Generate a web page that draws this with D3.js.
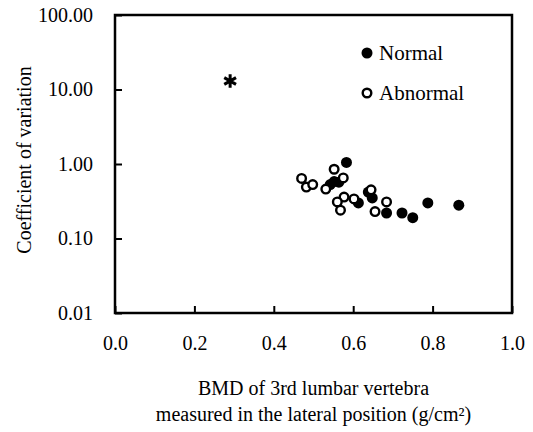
<!DOCTYPE html>
<html>
<head>
<meta charset="utf-8">
<script src="https://cdn.jsdelivr.net/npm/d3@7"></script>
<style>
  body { margin: 0; background: #fff; }
</style>
</head>
<body>
<script>
// data (x = BMD g/cm2, y = coefficient of variation)
let normalX = [0.583, 0.542, 0.552, 0.564, 0.613, 0.638, 0.648, 0.684, 0.723, 0.750, 0.788, 0.866];
let normalY = [1.05, 0.53, 0.58, 0.57, 0.30, 0.42, 0.35, 0.22, 0.22, 0.19, 0.30, 0.28];

let abnormalX = [0.470, 0.482, 0.498, 0.531, 0.552, 0.575, 0.577, 0.560, 0.568, 0.602, 0.645, 0.655, 0.684];
let abnormalY = [0.64, 0.49, 0.53, 0.46, 0.85, 0.65, 0.36, 0.31, 0.24, 0.34, 0.45, 0.23, 0.31];

let outlierX = [0.29];
let outlierY = [13];

let xTicks = [0, 0.2, 0.4, 0.6, 0.8, 1.0];
let yTicks = [0.01, 0.1, 1, 10, 100];

let serif = "'Liberation Serif', 'Times New Roman', serif";

let svg = d3.select("body").append("svg")
	.attr("width", 533)
	.attr("height", 432)
	.style("font-family", serif);

let margin = {top: 15, right: 21, bottom: 119, left: 115};
let innerWidth = 533 - margin.left - margin.right;
let innerHeight = 432 - margin.top - margin.bottom;

let scaleX = d3.scaleLinear().domain([0, 1]).range([0, innerWidth]);
let scaleY = d3.scaleLog().domain([0.01, 100]).range([innerHeight, 0]);

let g = svg.append("g")
	.attr("transform", `translate(${margin.left}, ${margin.top})`);

//axes, ticks pointing inward
let xAxis = d3.axisBottom(scaleX)
	.tickValues(xTicks)
	.tickSizeInner(-7)
	.tickSizeOuter(0)
	.tickPadding(23)
	.tickFormat(d3.format(".1f"));

let yAxis = d3.axisLeft(scaleY)
	.tickValues(yTicks)
	.tickSizeInner(-7)
	.tickSizeOuter(0)
	.tickPadding(22)
	.tickFormat(d3.format(".2f"));

let xG = g.append("g")
	.attr("transform", `translate(0, ${innerHeight})`)
	.call(xAxis);
let yG = g.append("g").call(yAxis);

[xG, yG].forEach(a => {
	a.attr("font-size", 20).attr("font-family", null);
	a.selectAll("text").attr("fill", "#000");
	a.selectAll(".tick line").attr("stroke", "#000").attr("stroke-width", 2);
	a.select(".domain").remove();
});

//frame box
g.append("rect")
	.attr("width", innerWidth)
	.attr("height", innerHeight)
	.attr("fill", "none")
	.attr("stroke", "#000")
	.attr("stroke-width", 2.5);

//points
g.selectAll(".normal")
	.data(normalX.map((x, i) => ({x: x, y: normalY[i]})))
	.join("circle")
	.attr("class", "normal")
	.attr("cx", d => scaleX(d.x))
	.attr("cy", d => scaleY(d.y))
	.attr("r", 5.5)
	.attr("fill", "#000");

g.selectAll(".abnormal")
	.data(abnormalX.map((x, i) => ({x: x, y: abnormalY[i]})))
	.join("circle")
	.attr("class", "abnormal")
	.attr("cx", d => scaleX(d.x))
	.attr("cy", d => scaleY(d.y))
	.attr("r", 4.3)
	.attr("fill", "#fff")
	.attr("stroke", "#000")
	.attr("stroke-width", 2.4);

g.selectAll(".outlier")
	.data(outlierX.map((x, i) => ({x: x, y: outlierY[i]})))
	.join("path")
	.attr("class", "outlier")
	.attr("transform", d => `translate(${scaleX(d.x)}, ${scaleY(d.y)})`)
	.attr("d", d3.symbol(d3.symbolAsterisk, 130))
	.attr("fill", "none")
	.attr("stroke", "#000")
	.attr("stroke-width", 3);

//legend
let legend = svg.append("g").attr("transform", "translate(367, 53)");
legend.append("circle").attr("r", 5.5).attr("fill", "#000");
legend.append("text").attr("x", 12).attr("y", 7).attr("font-size", 21).text("Normal");
legend.append("circle").attr("cy", 40).attr("r", 4.3)
	.attr("fill", "#fff").attr("stroke", "#000").attr("stroke-width", 2.4);
legend.append("text").attr("x", 12).attr("y", 47).attr("font-size", 21).text("Abnormal");

//axis titles
svg.append("text")
	.attr("text-anchor", "middle")
	.attr("font-size", 20)
	.attr("transform", `translate(31, ${margin.top + innerHeight / 2 - 4}) rotate(-90)`)
	.text("Coefficient of variation");

let xTitle = svg.append("text")
	.attr("text-anchor", "middle")
	.attr("font-size", 20)
	.attr("x", margin.left + innerWidth / 2);
xTitle.append("tspan").attr("x", margin.left + innerWidth / 2).attr("y", 395)
	.text("BMD of 3rd lumbar vertebra");
xTitle.append("tspan").attr("x", margin.left + innerWidth / 2).attr("y", 421)
	.text("measured in the lateral position (g/cm²)");

//serif font on every text
svg.selectAll("text").style("font-family", serif).attr("fill", "#000");
</script>
</body>
</html>
